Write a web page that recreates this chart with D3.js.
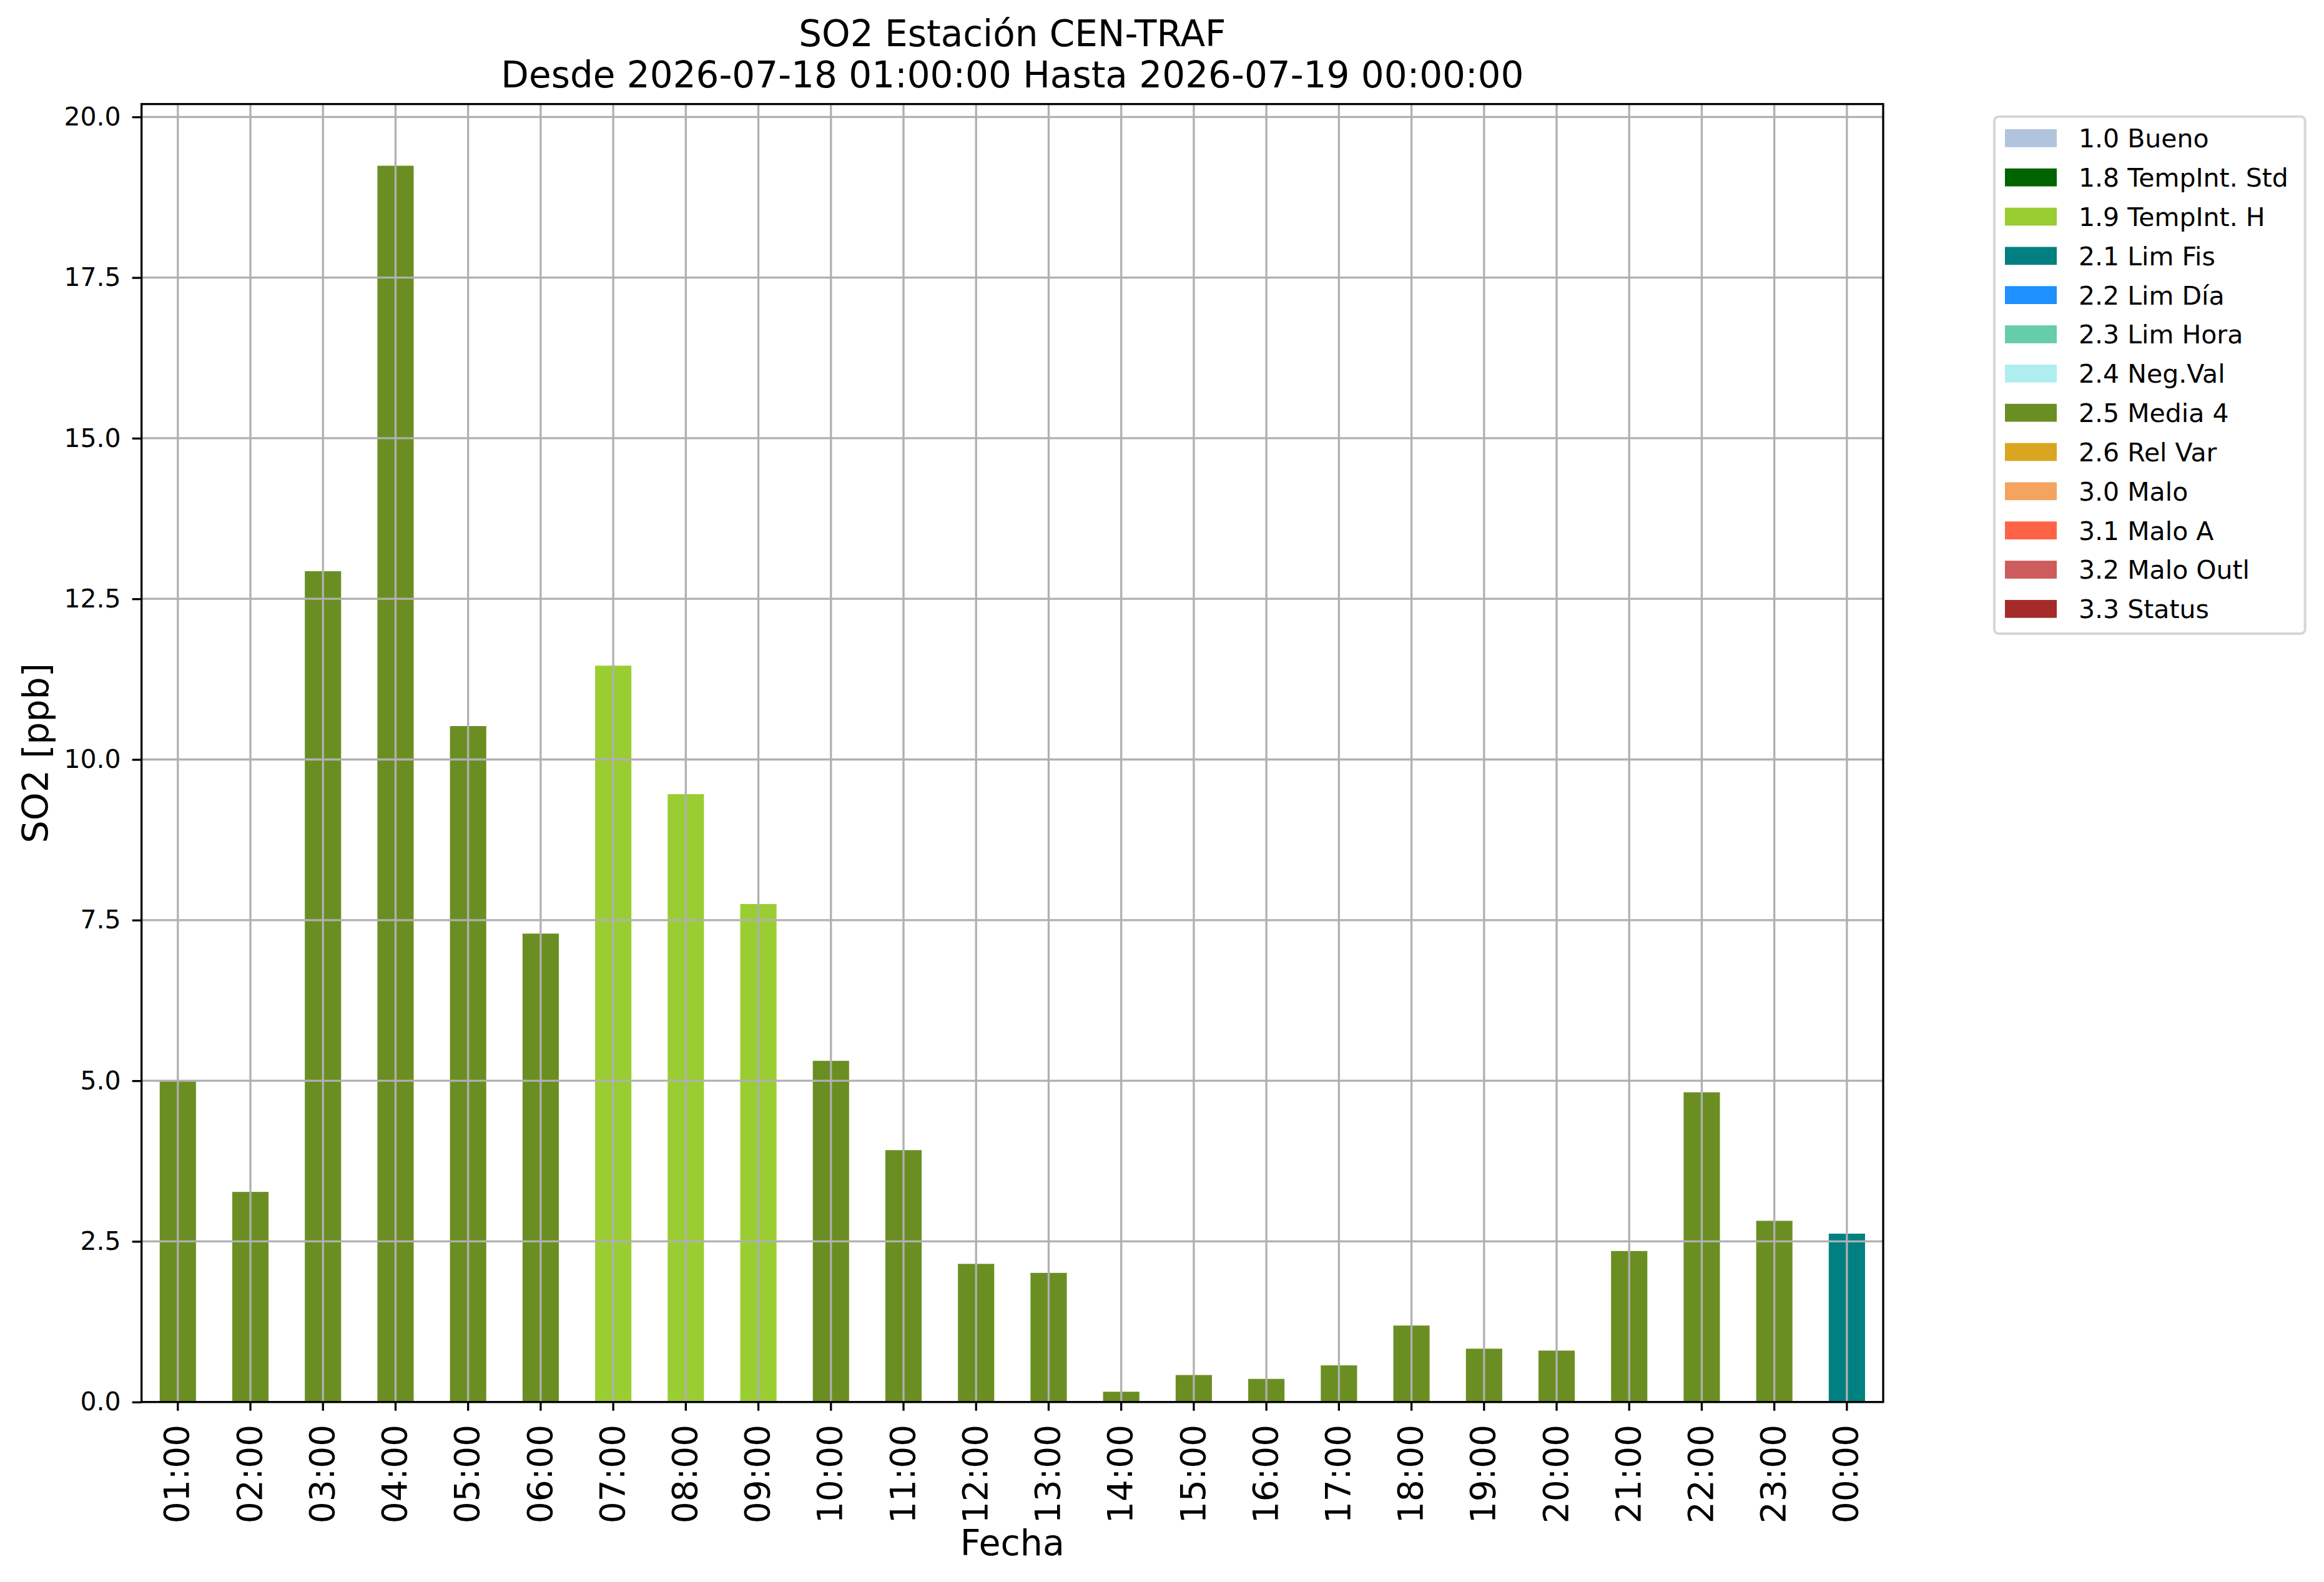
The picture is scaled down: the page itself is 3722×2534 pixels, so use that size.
<!DOCTYPE html>
<html>
<head>
<meta charset="utf-8">
<script src="https://cdn.jsdelivr.net/npm/d3@7"></script>
<style>
  body { margin: 0; background: #fff; }
  text { font-family: "DejaVu Sans", sans-serif; fill: #000; }
</style>
</head>
<body>
<div id="chart"></div>
<script>
// data
var hours = ["01:00","02:00","03:00","04:00","05:00","06:00","07:00","08:00",
             "09:00","10:00","11:00","12:00","13:00","14:00","15:00","16:00",
             "17:00","18:00","19:00","20:00","21:00","22:00","23:00","00:00"];
var so2 = [5.0, 3.27, 12.93, 19.24, 10.52, 7.29, 11.46, 9.46,
           7.75, 5.31, 3.92, 2.15, 2.01, 0.16, 0.42, 0.36,
           0.57, 1.19, 0.83, 0.80, 2.35, 4.82, 2.82, 2.62];
var flags = ["2.5 Media 4","2.5 Media 4","2.5 Media 4","2.5 Media 4","2.5 Media 4","2.5 Media 4",
             "1.9 TempInt. H","1.9 TempInt. H","1.9 TempInt. H",
             "2.5 Media 4","2.5 Media 4","2.5 Media 4","2.5 Media 4","2.5 Media 4","2.5 Media 4",
             "2.5 Media 4","2.5 Media 4","2.5 Media 4","2.5 Media 4","2.5 Media 4","2.5 Media 4",
             "2.5 Media 4","2.5 Media 4","2.1 Lim Fis"];
var yTicks = [0, 2.5, 5, 7.5, 10, 12.5, 15, 17.5, 20];

var legendLabels = ["1.0 Bueno","1.8 TempInt. Std","1.9 TempInt. H","2.1 Lim Fis","2.2 Lim Día",
                    "2.3 Lim Hora","2.4 Neg.Val","2.5 Media 4","2.6 Rel Var","3.0 Malo",
                    "3.1 Malo A","3.2 Malo Outl","3.3 Status"];
var legendColors = ["#b0c4de","#006400","#9acd32","#008080","#1e90ff",
                    "#66cdaa","#afeeee","#6b8e23","#daa520","#f4a460",
                    "#ff6347","#cd5c5c","#a52a2a"];

var W = 3722, H = 2534;
var pLeft = 226.7, pRight = 3016, pTop = 166.7, pBottom = 2245.7;

var svg = d3.select("#chart")
            .append("svg")
            .attr("width", W)
            .attr("height", H);

var color = d3.scaleOrdinal().domain(legendLabels).range(legendColors);

var xScale = d3.scaleBand().domain(hours).range([pLeft, pRight])
               .paddingInner(0.5).paddingOuter(0.25),
    yScale = d3.scaleLinear().domain([0, 20.2]).range([pBottom, pTop]);

var data = hours.map(function(h, i) { return {hour: h, v: so2[i], flag: flags[i]}; });

// bars
svg.selectAll(".bar")
   .data(data)
   .enter().append("rect")
   .attr("class", "bar")
   .attr("x", function(d) { return xScale(d.hour); })
   .attr("y", function(d) { return yScale(d.v); })
   .attr("width", xScale.bandwidth())
   .attr("height", function(d) { return pBottom - yScale(d.v); })
   .attr("fill", function(d) { return color(d.flag); });

// grid (drawn over the bars like matplotlib)
var grid = svg.append("g").attr("stroke", "#b0b0b0").attr("stroke-width", 3.3);
grid.selectAll(".gx").data(hours).enter().append("line")
    .attr("x1", function(d) { return xScale(d) + xScale.bandwidth() / 2; })
    .attr("x2", function(d) { return xScale(d) + xScale.bandwidth() / 2; })
    .attr("y1", pTop).attr("y2", pBottom);
grid.selectAll(".gy").data(yTicks).enter().append("line")
    .attr("x1", pLeft).attr("x2", pRight)
    .attr("y1", function(d) { return yScale(d); })
    .attr("y2", function(d) { return yScale(d); });

// axes
var xAxis = svg.append("g")
   .attr("transform", "translate(0," + pBottom + ")")
   .call(d3.axisBottom(xScale).tickSize(14).tickSizeOuter(0));
xAxis.select(".domain").remove();
xAxis.selectAll(".tick line").attr("stroke", "#000").attr("stroke-width", 3.3);
xAxis.selectAll(".tick text")
     .attr("font-size", "55px")
     .attr("text-anchor", "end")
     .attr("transform", "translate(0,36) rotate(-90)")
     .attr("x", 0).attr("y", 0)
     .attr("dy", "0.32em");

var yAxis = svg.append("g")
   .attr("transform", "translate(" + pLeft + ",0)")
   .call(d3.axisLeft(yScale).tickValues(yTicks).tickFormat(d3.format(".1f"))
           .tickSize(15).tickPadding(18).tickSizeOuter(0));
yAxis.select(".domain").remove();
yAxis.selectAll(".tick line").attr("stroke", "#000").attr("stroke-width", 3.3);
yAxis.selectAll(".tick text").attr("font-size", "41px");

// spines
svg.append("rect")
   .attr("x", pLeft).attr("y", pTop)
   .attr("width", pRight - pLeft).attr("height", pBottom - pTop)
   .attr("fill", "none").attr("stroke", "#000").attr("stroke-width", 3.3);

// titles
var cx = (pLeft + pRight) / 2;
svg.append("text").attr("x", cx).attr("y", 74).attr("text-anchor", "middle")
   .attr("font-size", "58px").text("SO2 Estación CEN-TRAF");
svg.append("text").attr("x", cx).attr("y", 140).attr("text-anchor", "middle")
   .attr("font-size", "58px").text("Desde 2026-07-18 01:00:00 Hasta 2026-07-19 00:00:00");

svg.append("text").attr("x", cx).attr("y", 2491).attr("text-anchor", "middle")
   .attr("font-size", "57px").text("Fecha");
svg.append("text")
   .attr("transform", "translate(77," + (pTop + pBottom) / 2 + ") rotate(-90)")
   .attr("text-anchor", "middle")
   .attr("font-size", "57px").text("SO2 [ppb]");

// legend
var lg = svg.append("g");
lg.append("rect")
  .attr("x", 3194).attr("y", 186.7).attr("width", 497.7).attr("height", 828.3)
  .attr("rx", 7).attr("fill", "#fff").attr("stroke", "#d6d6d6").attr("stroke-width", 4);
var rows = lg.selectAll(".row").data(legendLabels).enter().append("g")
  .attr("transform", function(d, i) { return "translate(0," + (221.3 + i * 62.83) + ")"; });
rows.append("rect").attr("x", 3211).attr("y", -14.3).attr("width", 83).attr("height", 28.7)
    .attr("fill", function(d) { return color(d); });
rows.append("text").attr("x", 3329).attr("y", 15).attr("font-size", "41px")
    .text(function(d) { return d; });
</script>
</body>
</html>
